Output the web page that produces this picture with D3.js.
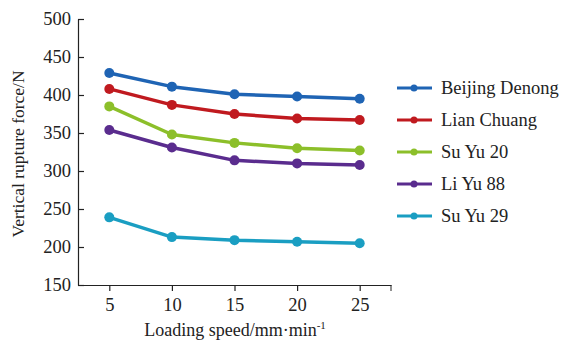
<!DOCTYPE html>
<html lang="en">
<head>
<meta charset="UTF-8">
<title>Vertical rupture force vs loading speed</title>
<script src="https://cdn.jsdelivr.net/npm/d3@7/dist/d3.min.js"></script>
<style>
  body { margin: 0; background: #fff; }
  text { font-family: "Liberation Serif", "DejaVu Serif", serif; fill: #222; }
</style>
</head>
<body>
<div id="chart"></div>
<script>
const speeds = [5, 10, 15, 20, 25];
const seriesNames = ['Beijing Denong', 'Lian Chuang', 'Su Yu 20', 'Li Yu 88', 'Su Yu 29'];
const beijingDenong = [429, 411, 401, 398, 395];
const lianChuang = [408, 387, 375, 369, 367];
const suYu20 = [385, 348, 337, 330, 327];
const liYu88 = [354, 331, 314, 310, 308];
const suYu29 = [239, 213, 209, 207, 205];
const yTicks = [150, 200, 250, 300, 350, 400, 450, 500];
const colors = ['#1f64b4', '#c01a1f', '#8cbf2a', '#5a2c8e', '#1a9ec2'];

const allValues = [beijingDenong, lianChuang, suYu20, liYu88, suYu29];
const series = seriesNames.map((name, i) => ({
  name, color: colors[i],
  points: speeds.map((s, j) => ({ x: s, y: allValues[i][j] }))
}));

const width = 562, height = 342;
const svg = d3.select('#chart').append('svg')
  .attr('width', width).attr('height', height);

const x = d3.scaleLinear().domain([2.5, 27.5]).range([78, 391]);
const y = d3.scaleLinear().domain([150, 500]).range([285, 19]);

// x axis, ticks pointing down
const xAxis = svg.append('g')
  .attr('transform', `translate(0,${y(150)})`)
  .call(d3.axisBottom(x).tickValues(speeds).tickSizeInner(6).tickSizeOuter(0).tickPadding(7));
xAxis.append('line')
  .attr('x1', x(27.5)).attr('x2', x(27.5)).attr('y1', 0).attr('y2', 6)
  .attr('stroke', '#222');

// y axis, ticks pointing inward
const yAxis = svg.append('g')
  .attr('transform', `translate(${x(2.5)},0)`)
  .call(d3.axisLeft(y).tickValues(yTicks).tickSizeInner(-6).tickSizeOuter(0).tickPadding(7));

svg.selectAll('.domain, .tick line').attr('stroke', '#222').attr('stroke-width', 1.2);
svg.selectAll('.tick text').style('font-size', '18.5px').attr('fill', '#222');
yAxis.selectAll('.tick text').attr('x', -7);

svg.append('text')
  .attr('x', 235).attr('y', 336)
  .attr('text-anchor', 'middle').style('font-size', '18px')
  .text('Loading speed/mm·min')
  .append('tspan').attr('dy', -7).style('font-size', '11px').text('-1');

svg.append('text')
  .attr('transform', 'translate(24,154) rotate(-90)')
  .attr('text-anchor', 'middle').style('font-size', '17.5px')
  .text('Vertical rupture force/N');

const line = d3.line().x(d => x(d.x)).y(d => y(d.y));

series.forEach(s => {
  svg.append('path')
    .datum(s.points)
    .attr('d', line)
    .attr('fill', 'none')
    .attr('stroke', s.color)
    .attr('stroke-width', 3.5)
    .attr('stroke-linejoin', 'round');
  svg.selectAll(null)
    .data(s.points)
    .join('circle')
    .attr('cx', d => x(d.x))
    .attr('cy', d => y(d.y))
    .attr('r', 5)
    .attr('fill', s.color);
});

// legend
const legend = svg.append('g').attr('transform', 'translate(397,88)');
series.forEach((s, i) => {
  const g = legend.append('g').attr('transform', `translate(0,${i * 32})`);
  g.append('line').attr('x1', 0).attr('x2', 35).attr('y1', 0).attr('y2', 0)
    .attr('stroke', s.color).attr('stroke-width', 3);
  g.append('circle').attr('cx', 17).attr('cy', 0).attr('r', 3.5).attr('fill', s.color);
  g.append('text').attr('x', 44).attr('y', 6).style('font-size', '18.5px').text(s.name);
});
</script>
</body>
</html>
